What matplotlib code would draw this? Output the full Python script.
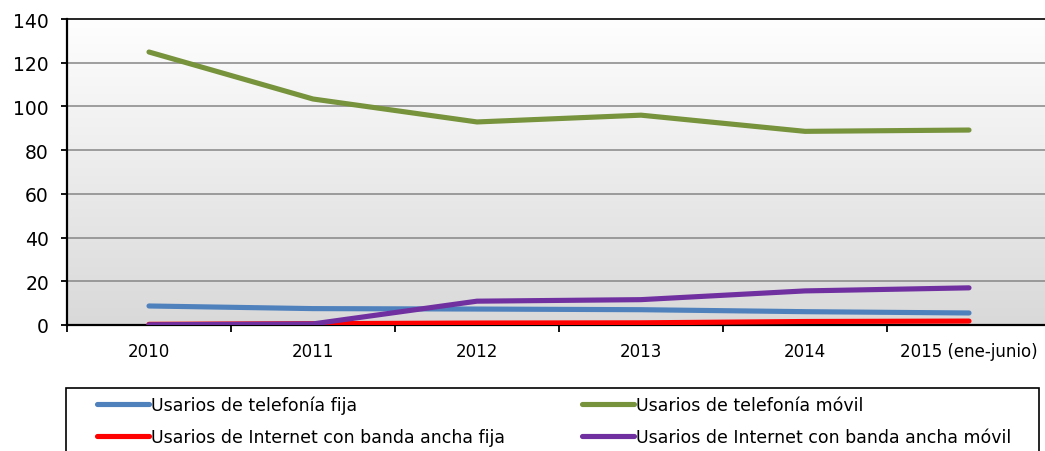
import matplotlib.pyplot as plt
import numpy as np
from matplotlib.patches import Rectangle
from matplotlib.lines import Line2D

# Data
years = ['2010', '2011', '2012', '2013', '2014', '2015 (ene-junio)']
tel_fija = [8.7, 7.5, 7.3, 7.0, 6.1, 5.5]
tel_movil = [124.9, 103.4, 92.9, 96.0, 88.6, 89.2]
inet_fija = [0.3, 0.6, 0.9, 1.0, 1.6, 1.8]
inet_movil = [0.1, 0.5, 10.9, 11.6, 15.6, 17.0]

labels = ['Usarios de telefonía fija', 'Usarios de telefonía móvil',
          'Usarios de Internet con banda ancha fija', 'Usarios de Internet con banda ancha móvil']
colors = ['#4F81BD', '#77933C', '#FF0000', '#7030A0']

plt.rcParams['font.family'] = ['DejaVu Sans']

fig = plt.figure(figsize=(10.45, 4.52), dpi=100)
W, H = 1045, 452
ax = fig.add_axes([67 / W, 1 - 326 / H, (1051 - 67) / W, (326 - 20) / H])

x = np.arange(len(years))
ax.set_xlim(-0.5, len(years) - 0.5)
ax.set_ylim(0, 140)

# gradient background
grad = np.linspace(0, 1, 256).reshape(-1, 1)
ax.imshow(grad, extent=[0, 1, 0, 1], transform=ax.transAxes, aspect='auto',
          cmap=plt.matplotlib.colors.LinearSegmentedColormap.from_list('g', ['#d9d9d9', '#fefefe']),
          origin='lower', zorder=0)

for v in range(20, 140, 20):
    ax.axhline(v, color='#868686', lw=1.1, zorder=1)

series = [tel_fija, tel_movil, inet_fija, inet_movil]
draw_order = [2, 0, 3, 1]
for i in draw_order:
    ax.plot(x, series[i], color=colors[i], lw=3.7, solid_capstyle='round', zorder=3)

for s in ['left', 'bottom', 'top']:
    ax.spines[s].set_color('black')
    ax.spines[s].set_linewidth(1.6)
ax.spines['top'].set_linewidth(1.2)
ax.spines['right'].set_visible(False)

ax.set_yticks(range(0, 141, 20))
ax.tick_params(axis='y', labelsize=13.5, length=4, width=1.3, pad=9, colors='black')
ax.set_xticks(x)
ax.set_xticklabels(years)
ax.set_xticks(np.arange(-0.5, len(years), 1), minor=True)
ax.tick_params(axis='x', which='major', length=0, labelsize=12, pad=12)
ax.tick_params(axis='x', which='minor', length=5, width=1.3, direction='out')

# legend box (runs off the bottom edge like the reference)
fig.patches.append(Rectangle((66 / W, -0.05), (1039 - 66) / W, 0.05 + (1 - 389 / H),
                             transform=fig.transFigure, fill=False, edgecolor='black', lw=1.2))

handles = [Line2D([], [], color=c, lw=3.7, solid_capstyle='round') for c in colors]
col_x = [90 / W, 575 / W]
for col in range(2):
    idx = [col, col + 2]
    fig.legend([handles[i] for i in idx], [labels[i] for i in idx],
               loc='upper left', bbox_to_anchor=(col_x[col], 1 - 390 / H),
               frameon=False, fontsize=12.5, handlelength=3.0, handletextpad=0.1,
               labelspacing=0.8, borderaxespad=0)

fig.savefig('out.png', dpi=100)
